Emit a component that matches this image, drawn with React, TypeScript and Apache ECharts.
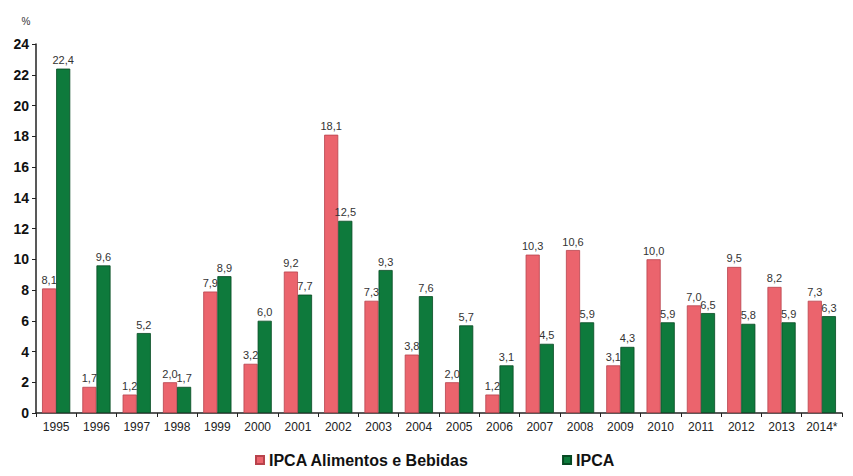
import React, { useEffect, useRef } from "react";
import * as echarts from "echarts";

const categories = ["1995","1996","1997","1998","1999","2000","2001","2002","2003","2004","2005","2006","2007","2008","2009","2010","2011","2012","2013","2014*"];
const alimentos = [8.1,1.7,1.2,2.0,7.9,3.2,9.2,18.1,7.3,3.8,2.0,1.2,10.3,10.6,3.1,10.0,7.0,9.5,8.2,7.3];
const ipca = [22.4,9.6,5.2,1.7,8.9,6.0,7.7,12.5,9.3,7.6,5.7,3.1,4.5,5.9,4.3,5.9,6.5,5.8,5.9,6.3];

const fmt = (p: any) => String(p.value).includes(".") ? String(p.value).replace(".", ",") : p.value + ",0";

export default function App() {
  const ref = useRef<HTMLDivElement>(null);
  useEffect(() => {
    const chart = echarts.init(ref.current!, undefined, { renderer: "svg" });
    const label = { show: true, position: "top", distance: 3, color: "#333", fontSize: 11, fontFamily: "Arial", formatter: fmt };
    chart.setOption({
      animation: false,
      grid: { left: 36, right: 11, top: 44, bottom: 63 },
      legend: {
        bottom: 3,
        left: 250,
        itemWidth: 8,
        itemHeight: 8,
        itemGap: 93,
        icon: "rect",
        textStyle: { fontSize: 16, fontWeight: "bold", fontFamily: "Arial", color: "#111" },
        data: ["IPCA Alimentos e Bebidas", "IPCA"],
      },
      xAxis: {
        type: "category",
        data: categories,
        axisLine: { lineStyle: { color: "#222", width: 1.5 } },
        axisTick: { show: true, alignWithLabel: false, length: 4, lineStyle: { color: "#222" } },
        axisLabel: { color: "#222", fontSize: 12, fontFamily: "Arial", margin: 8, interval: 0 },
      },
      yAxis: {
        type: "value",
        min: 0,
        max: 24,
        interval: 2,
        name: "%",
        nameLocation: "end",
        nameGap: 18,
        nameTextStyle: { fontSize: 10, color: "#333", fontFamily: "Arial", padding: [0, 20, 0, 0] },
        axisLine: { show: true, lineStyle: { color: "#222", width: 1.5 } },
        axisTick: { show: true, length: 4, lineStyle: { color: "#222" } },
        axisLabel: { color: "#111", fontSize: 14, fontWeight: "bold", fontFamily: "Arial", margin: 7 },
        splitLine: { show: false },
      },
      series: [
        {
          name: "IPCA Alimentos e Bebidas",
          type: "bar",
          data: alimentos,
          barGap: "0%",
          barCategoryGap: "30%",
          itemStyle: { color: "#EB646D", borderColor: "#b8434c", borderWidth: 0.8 },
          label,
        },
        {
          name: "IPCA",
          type: "bar",
          data: ipca,
          itemStyle: { color: "#0E7A3C", borderColor: "#064a22", borderWidth: 0.8 },
          label,
        },
      ],
    });
    return () => chart.dispose();
  }, []);
  return <div ref={ref} style={{ width: 853, height: 476, position: "absolute", left: 0, top: 0 }} />;
}
